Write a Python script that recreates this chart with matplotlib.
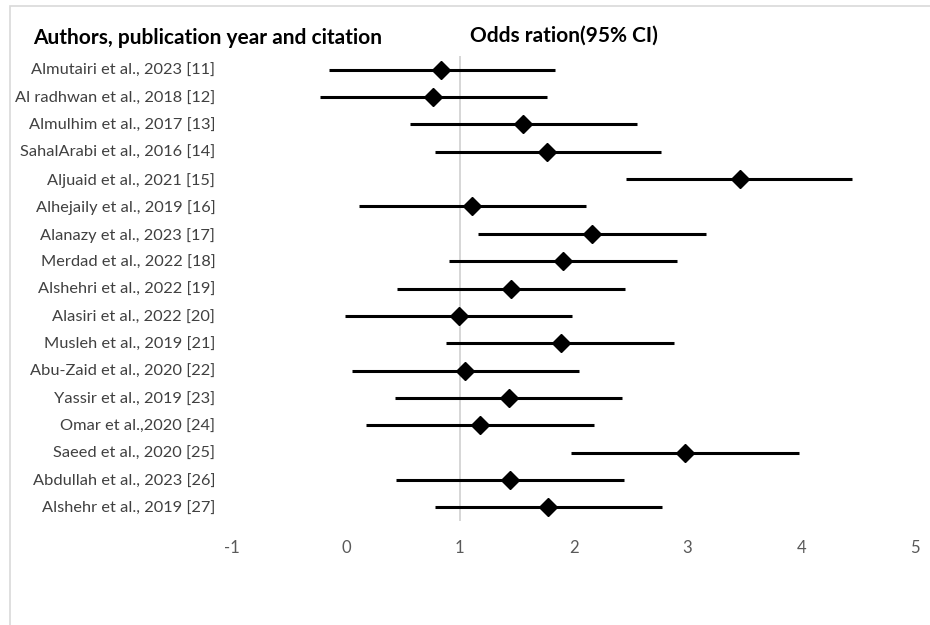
import matplotlib
matplotlib.use("Agg")
import matplotlib.pyplot as plt
from matplotlib.patches import Rectangle

studies = [
    "Almutairi et al., 2023 [11]",
    "Al radhwan et al., 2018 [12]",
    "Almulhim et al., 2017 [13]",
    "SahalArabi et al., 2016 [14]",
    "Aljuaid et al., 2021 [15]",
    "Alhejaily et al., 2019 [16]",
    "Alanazy et al., 2023 [17]",
    "Merdad et al., 2022 [18]",
    "Alshehri et al., 2022 [19]",
    "Alasiri et al., 2022 [20]",
    "Musleh et al., 2019 [21]",
    "Abu-Zaid et al., 2020 [22]",
    "Yassir et al., 2019 [23]",
    "Omar et al.,2020 [24]",
    "Saeed et al., 2020 [25]",
    "Abdullah et al., 2023 [26]",
    "Alshehr et al., 2019 [27]",
]
odds_ratio = [0.84, 0.77, 1.56, 1.77, 3.46, 1.11, 2.16, 1.91, 1.45, 0.99, 1.89,
              1.05, 1.43, 1.18, 2.98, 1.44, 1.78]
ci_low = [-0.15, -0.23, 0.56, 0.78, 2.46, 0.12, 1.16, 0.91, 0.45, -0.01, 0.88,
          0.05, 0.43, 0.18, 1.98, 0.44, 0.78]
ci_high = [1.84, 1.77, 2.56, 2.77, 4.45, 2.11, 3.16, 2.91, 2.45, 1.99, 2.88,
           2.05, 2.43, 2.18, 3.98, 2.44, 2.78]
x_ticks = [-1, 0, 1, 2, 3, 4, 5]

W, H = 930, 625
fig = plt.figure(figsize=(W / 100, H / 100), dpi=100)
fig.patch.set_facecolor("white")

# chart border (cut at right/bottom)
fig.patches.append(Rectangle((10 / W, -0.1), 1.2, (H - 6) / H + 0.1,
                             transform=fig.transFigure, fill=False,
                             edgecolor="#d9d9d9", linewidth=1.2))

left_px, right_px = 232, 915
top_px, bot_px = 56, 521
ax = fig.add_axes([left_px / W, 1 - bot_px / H, (right_px - left_px) / W,
                   (bot_px - top_px) / H])
ax.set_facecolor("none")

ypos = list(range(1, len(studies) + 1))
ax.axvline(1, color="#d0d0d0", linewidth=1.2, zorder=1)
ax.hlines(ypos, ci_low, ci_high, color="black", linewidth=2.2, zorder=2)
ax.plot(odds_ratio, ypos, linestyle="none", marker="D", markersize=9.5,
        color="black", zorder=3)

ax.set_xlim(-1, 5)
ax.set_ylim(len(studies) + 0.5, 0.5)
ax.set_xticks(x_ticks)
ax.set_xticklabels([str(t) for t in x_ticks])
ax.set_yticks(ypos)
ax.set_yticklabels(studies)
for s in ax.spines.values():
    s.set_visible(False)
ax.tick_params(axis="x", length=0, pad=14, labelsize=12, labelcolor="#595959")
ax.tick_params(axis="y", length=0, pad=12, labelsize=11.8, labelcolor="#404040")
for lab in ax.get_xticklabels() + ax.get_yticklabels():
    lab.set_fontfamily(["Lato", "DejaVu Sans"])

fig.text(33 / W, 1 - 38 / H, "Authors, publication year and citation",
         fontsize=15, fontweight="bold", family=["Lato", "DejaVu Sans"],
         ha="left", va="center", color="black")
fig.text(470 / W, 1 - 36 / H, "Odds ration(95% CI)",
         fontsize=15, fontweight="bold", family=["Lato", "DejaVu Sans"],
         ha="left", va="center", color="black")

fig.savefig("out.png", dpi=100)
